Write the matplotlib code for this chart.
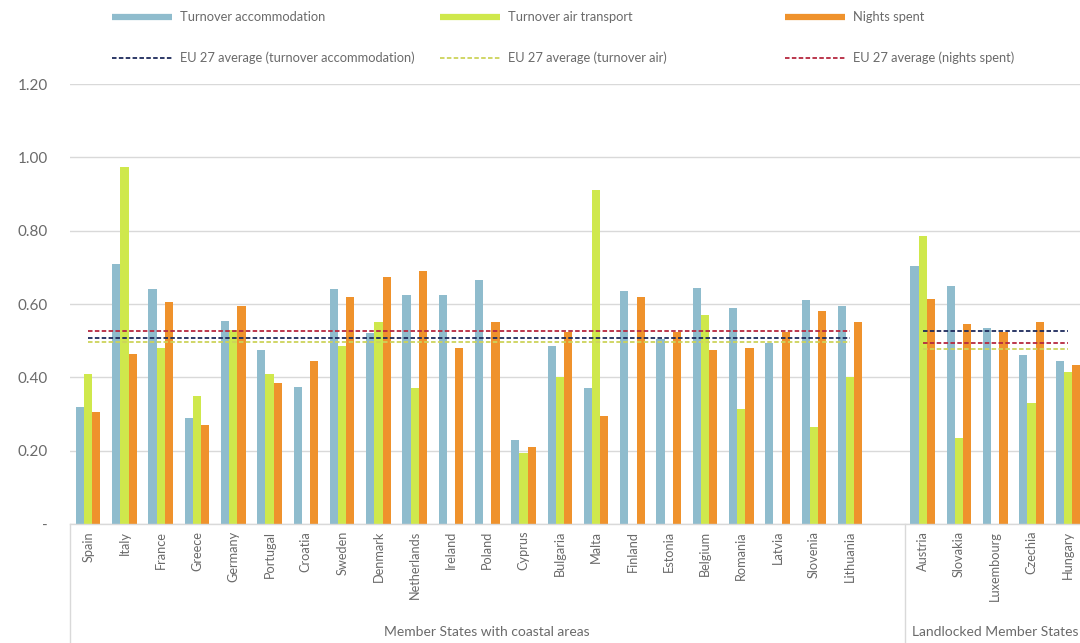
import numpy as np
import matplotlib
matplotlib.use("Agg")
import matplotlib.pyplot as plt
from matplotlib.lines import Line2D
from matplotlib.transforms import blended_transform_factory

plt.rcParams['font.family'] = ['Lato', 'DejaVu Sans']

# ---- data -------------------------------------------------------------
coastal = ["Spain", "Italy", "France", "Greece", "Germany", "Portugal", "Croatia",
           "Sweden", "Denmark", "Netherlands", "Ireland", "Poland", "Cyprus",
           "Bulgaria", "Malta", "Finland", "Estonia", "Belgium", "Romania",
           "Latvia", "Slovenia", "Lithuania"]
landlocked = ["Austria", "Slovakia", "Luxembourg", "Czechia", "Hungary"]

nan = np.nan
turnover_accommodation = [0.32, 0.71, 0.64, 0.29, 0.555, 0.475, 0.375, 0.64, 0.52, 0.625,
                          0.625, 0.665, 0.23, 0.485, 0.37, 0.635, 0.505, 0.645, 0.59,
                          0.495, 0.61, 0.595,
                          0.705, 0.65, 0.535, 0.46, 0.445]
turnover_air = [0.41, 0.975, 0.48, 0.35, 0.53, 0.41, nan, 0.485, 0.55, 0.37,
                nan, nan, 0.195, 0.40, 0.91, nan, nan, 0.57, 0.315,
                nan, 0.265, 0.40,
                0.785, 0.235, nan, 0.33, 0.415]
nights_spent = [0.305, 0.465, 0.605, 0.27, 0.595, 0.385, 0.445, 0.62, 0.675, 0.69,
                0.48, 0.55, 0.21, 0.525, 0.295, 0.62, 0.525, 0.475, 0.48,
                0.525, 0.58, 0.55,
                0.615, 0.545, 0.525, 0.55, 0.435]

# EU-27 averages drawn across each group: (coastal, landlocked)
avg_accommodation = [0.506, 0.527]
avg_air = [0.497, 0.476]
avg_nights = [0.526, 0.495]

group_labels = ["Member States with coastal areas", "Landlocked Member States"]
y_ticks = [0, 0.2, 0.4, 0.6, 0.8, 1.0, 1.2]
y_tick_labels = ["-", "0.20", "0.40", "0.60", "0.80", "1.00", "1.20"]

bar_names = ["Turnover accommodation", "Turnover air transport", "Nights spent"]
avg_names = ["EU 27 average (turnover accommodation)", "EU 27 average (turnover air)",
             "EU 27 average (nights spent)"]

# ---- styling ----------------------------------------------------------
c_acc = "#8fbccd"
c_air = "#cfe84c"
c_night = "#ef922c"
c_avg_acc = "#1d2a5c"
c_avg_air = "#cdd35a"
c_avg_night = "#b5283f"
txt = "#6a6a6a"
grid_c = "#d9d9d9"

fig = plt.figure(figsize=(10.8, 6.43), dpi=100)
ax = fig.add_axes([70 / 1080, 1 - 524 / 643, (1086 - 70) / 1080, (524 - 84) / 643])

n_c = len(coastal)
x_coastal = np.arange(n_c)
x_land = np.arange(n_c + 1, n_c + 1 + len(landlocked))
x_all = np.concatenate([x_coastal, x_land])
labels_all = coastal + landlocked

w = 0.225
ax.bar(x_all - w, turnover_accommodation, w, color=c_acc, zorder=2)
ax.bar(x_all, turnover_air, w, color=c_air, zorder=2)
ax.bar(x_all + w, nights_spent, w, color=c_night, zorder=2)

dash_kw = dict(linewidth=1.3, dashes=(2.5, 1.3), zorder=3)
for xs, gi in ((x_coastal, 0), (x_land, 1)):
    ax.plot(xs, [avg_nights[gi]] * len(xs), color=c_avg_night, **dash_kw)
    ax.plot(xs, [avg_accommodation[gi]] * len(xs), color=c_avg_acc, **dash_kw)
    ax.plot(xs, [avg_air[gi]] * len(xs), color=c_avg_air, **dash_kw)

ax.set_xlim(-0.5, x_all[-1] + 0.5)
ax.set_ylim(0, 1.2)
ax.set_yticks(y_ticks)
ax.set_yticklabels(y_tick_labels)
ax.tick_params(axis="y", length=0, pad=16, labelsize=11, labelcolor=txt)
ax.set_xticks(x_all)
ax.set_xticklabels(labels_all, rotation=90, va="top", ha="center")
ax.tick_params(axis="x", length=0, pad=5, labelsize=9.2, labelcolor=txt)

ax.grid(axis="y", color=grid_c, linewidth=1.0, zorder=0)
ax.set_axisbelow(True)
for s in ("top", "right", "left"):
    ax.spines[s].set_visible(False)
ax.spines["bottom"].set_color(grid_c)
ax.spines["bottom"].set_linewidth(1.0)

# multi-level category axis: separators and group names
trans = blended_transform_factory(ax.transData, ax.transAxes)
sep_y = -119 / 440
for xs in (-0.5, n_c + 0.5):
    ax.plot([xs, xs], [0, sep_y], transform=trans, color=grid_c, linewidth=1.0,
            clip_on=False)
ax.text((-0.5 + n_c + 0.5) / 2, -108 / 440, group_labels[0], transform=trans,
        ha="center", va="center", fontsize=10, color=txt)
ax.text((n_c + 0.5 + x_all[-1] + 0.5) / 2, -108 / 440, group_labels[1], transform=trans,
        ha="center", va="center", fontsize=10, color=txt)

# legend, two rows above the plot
cols_x = [112, 440, 785]
row_y = [17, 58]
bar_cols = [c_acc, c_air, c_night]
avg_cols = [c_avg_acc, c_avg_air, c_avg_night]
for i in range(3):
    x0 = cols_x[i] / 1080
    x1 = (cols_x[i] + 60) / 1080
    y0 = 1 - row_y[0] / 643
    y1 = 1 - row_y[1] / 643
    fig.add_artist(Line2D([x0, x1], [y0, y0], color=bar_cols[i], linewidth=4.5,
                          solid_capstyle="butt"))
    fig.text((cols_x[i] + 68) / 1080, y0, bar_names[i], ha="left", va="center",
             fontsize=9.3, color=txt)
    fig.add_artist(Line2D([x0, x1], [y1, y1], color=avg_cols[i], **dash_kw))
    fig.text((cols_x[i] + 68) / 1080, y1, avg_names[i], ha="left", va="center",
             fontsize=9.3, color=txt)

fig.savefig("out.png", dpi=100, facecolor="white")
